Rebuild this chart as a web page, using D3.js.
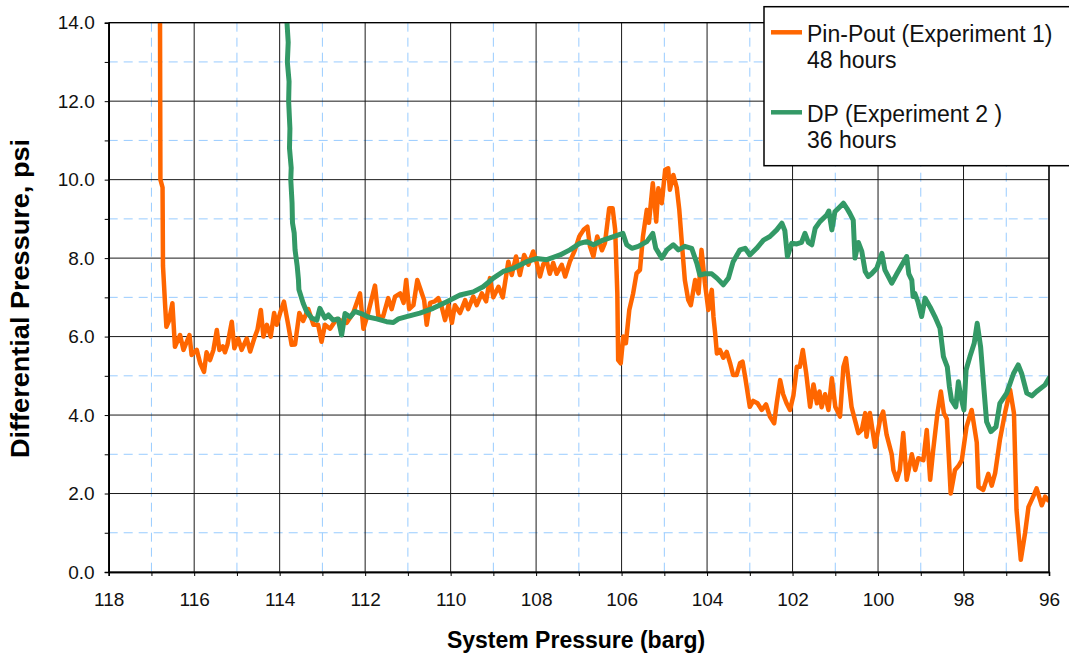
<!DOCTYPE html>
<html>
<head>
<meta charset="utf-8">
<script src="https://cdn.jsdelivr.net/npm/d3@7"></script>
<style>
  html, body { margin: 0; padding: 0; background: #fff; }
  svg { display: block; font-family: "Liberation Sans", Arial, sans-serif; }
</style>
</head>
<body>
<svg id="chart" width="1069" height="656"></svg>
<script>
// System pressure (barg) readings for each experiment
const pinPoutPressure = [116.80,116.79,116.74,116.73,116.68,116.65,116.59,116.51,116.45,116.33,116.25,116.11,116.06,115.94,115.86,115.77,115.71,115.63,115.55,115.47,115.41,115.33,115.28,115.22,115.12,115.06,114.97,114.89,114.77,114.69,114.58,114.52,114.44,114.38,114.30,114.21,114.13,114.07,113.99,113.90,113.80,113.72,113.64,113.54,113.45,113.33,113.21,113.10,113.02,112.94,112.82,112.67,112.43,112.28,112.12,112.04,111.93,111.77,111.69,111.58,111.46,111.38,111.30,111.18,111.10,111.04,110.97,110.87,110.78,110.70,110.62,110.56,110.48,110.37,110.29,110.21,110.13,110.05,109.97,109.90,109.78,109.66,109.59,109.47,109.39,109.27,109.17,109.08,109.00,108.88,108.78,108.65,108.57,108.47,108.38,108.28,108.18,108.07,107.99,107.91,107.83,107.75,107.68,107.60,107.52,107.40,107.32,107.21,107.09,106.99,106.89,106.80,106.74,106.66,106.57,106.46,106.39,106.29,106.21,106.15,106.10,106.08,106.02,105.96,105.90,105.82,105.73,105.65,105.57,105.50,105.41,105.36,105.27,105.19,105.14,105.06,104.98,104.91,104.87,104.79,104.71,104.65,104.59,104.52,104.44,104.38,104.28,104.20,104.13,104.05,103.97,103.89,103.85,103.81,103.77,103.70,103.62,103.54,103.46,103.39,103.31,103.23,103.17,103.11,103.00,102.92,102.82,102.72,102.62,102.53,102.43,102.37,102.29,102.22,102.14,102.06,101.98,101.90,101.83,101.76,101.68,101.59,101.51,101.43,101.37,101.32,101.24,101.16,101.08,101.00,100.89,100.81,100.75,100.70,100.62,100.54,100.46,100.38,100.30,100.27,100.19,100.07,99.95,99.88,99.80,99.68,99.64,99.56,99.49,99.41,99.33,99.21,99.13,99.06,98.94,98.86,98.78,98.71,98.61,98.53,98.46,98.39,98.30,98.20,98.12,98.04,97.93,97.81,97.69,97.65,97.54,97.42,97.34,97.26,97.15,97.03,96.91,96.82,96.76,96.66,96.56,96.48,96.37,96.29,96.17,96.09,96.02];
// Differential pressure (psi), experiment 1
const pinPoutDP = [14.3,10.0,9.8,7.8,6.8,6.25,6.4,6.85,5.74,6.04,5.66,6.04,5.53,5.66,5.32,5.1,5.6,5.4,5.66,6.17,5.66,5.75,5.6,5.8,6.38,5.7,5.95,5.66,5.95,5.62,6.0,6.17,6.68,6.0,6.3,6.0,6.6,6.3,6.6,6.89,6.3,5.79,5.8,6.6,6.4,6.7,6.3,6.3,5.87,6.3,6.2,6.45,6.35,6.6,7.1,6.2,6.6,7.3,6.5,6.51,6.98,6.7,7.02,7.1,6.86,7.44,6.7,6.8,7.44,7.19,6.93,6.30,6.86,6.9,6.98,6.76,6.42,6.8,6.35,6.8,6.6,6.93,6.7,7.02,6.8,7.1,6.9,7.49,7.0,7.27,7.0,7.91,7.57,8.04,7.57,8.08,7.83,8.17,7.9,7.53,7.85,7.91,7.6,7.88,7.6,7.83,7.53,7.91,8.21,8.55,8.72,8.8,8.3,8.04,8.55,8.2,8.38,9.27,9.27,8.72,7.1,5.4,5.32,6.0,5.83,6.68,7.1,7.61,7.7,8.55,9.23,8.9,9.91,8.93,9.78,9.4,10.25,10.29,9.74,10.12,9.8,9.23,8.38,7.44,6.93,6.8,7.44,7.1,8.21,7.36,6.68,7.19,6.5,6.08,5.57,5.66,5.46,5.61,5.32,5.02,5.02,5.32,5.36,4.98,4.21,4.36,4.3,4.13,4.27,3.96,3.79,4.3,4.89,4.53,4.3,4.13,4.5,5.23,5.23,5.66,5.06,4.21,4.78,4.3,4.6,4.2,4.53,4.13,4.94,4.21,3.96,5.23,5.45,4.98,4.21,3.87,3.54,3.62,4.05,3.45,4.05,3.19,3.9,4.09,3.5,3.0,2.6,2.35,2.6,3.54,2.35,3.0,2.6,2.9,2.85,3.62,2.35,3.1,4.05,4.6,4.05,3.9,2.0,2.6,2.7,2.85,3.7,4.13,3.3,2.17,2.09,2.5,2.2,2.52,3.36,4.05,4.64,4.05,1.58,0.31,0.99,1.66,1.92,2.13,1.7,1.92,1.83];

const dpPressure = [113.84,113.80,113.82,113.78,113.79,113.76,113.77,113.73,113.74,113.71,113.70,113.66,113.64,113.59,113.56,113.55,113.45,113.37,113.25,113.13,113.06,112.94,112.86,112.75,112.63,112.55,112.47,112.35,112.24,112.08,111.93,111.73,111.50,111.34,111.22,111.03,110.72,110.41,110.09,109.78,109.47,109.24,109.00,108.77,108.53,108.22,107.99,107.75,107.44,107.21,106.97,106.82,106.66,106.43,106.19,105.97,105.88,105.76,105.61,105.41,105.27,105.20,105.06,104.94,104.79,104.67,104.52,104.36,104.24,104.17,104.05,103.89,103.77,103.62,103.50,103.39,103.23,103.11,103.00,102.84,102.68,102.53,102.37,102.25,102.18,102.12,102.02,101.90,101.79,101.71,101.63,101.55,101.47,101.36,101.20,101.15,101.08,101.01,100.89,100.81,100.73,100.66,100.58,100.54,100.46,100.38,100.30,100.23,100.15,100.03,99.91,99.84,99.68,99.56,99.33,99.28,99.21,99.18,99.14,99.07,98.98,98.90,98.78,98.67,98.55,98.47,98.38,98.33,98.28,98.18,98.12,98.07,97.99,97.94,97.85,97.75,97.68,97.60,97.52,97.46,97.36,97.24,97.15,96.99,96.83,96.72,96.64,96.52,96.40,96.29,96.09,96.00];
// Differential pressure (psi), experiment 2
const dpValues = [14.2,13.5,13.0,12.5,12.0,11.3,10.8,10.3,10.0,9.4,8.9,8.64,8.21,7.8,7.44,7.2,6.85,6.64,6.47,6.42,6.72,6.47,6.55,6.42,6.45,6.04,6.59,6.5,6.64,6.58,6.5,6.45,6.38,6.36,6.45,6.51,6.6,6.72,6.89,7.06,7.14,7.27,7.49,7.66,7.74,7.91,7.99,7.96,8.08,8.21,8.38,8.42,8.34,8.46,8.55,8.63,8.34,8.25,8.3,8.42,8.63,8.25,8.0,8.21,8.34,8.21,8.3,8.25,7.87,7.57,7.6,7.6,7.49,7.32,7.49,7.91,8.21,8.25,8.08,8.25,8.46,8.55,8.72,8.89,8.7,8.04,8.38,8.36,8.4,8.63,8.4,8.34,8.76,8.93,9.1,9.2,8.72,9.18,9.31,9.4,9.27,9.14,8.97,8.0,8.4,8.17,7.66,7.53,7.6,7.74,8.12,7.7,7.36,7.6,8.04,7.6,7.44,7.02,7.1,6.9,6.51,6.98,6.75,6.51,6.21,5.49,5.23,4.72,4.38,4.21,4.85,4.5,4.13,5.15,5.49,5.83,6.34,5.74,4.64,3.83,3.58,3.7,4.3,4.56,5.06,5.28,5.06,4.56,4.49,4.6,4.77,4.94];

const xMajorTicks = [118,116,114,112,110,108,106,104,102,100,98,96];
const xMinorTicks = [117,115,113,111,109,107,105,103,101,99,97];
const yMajorTicks = [0,2,4,6,8,10,12,14];
const yMinorTicks = [1,3,5,7,9,11,13];

const seriesNames = ["Pin-Pout (Experiment 1)", "DP (Experiment 2 )"];
const seriesNotes = ["48 hours", "36 hours"];
const seriesColors = ["#FF6600", "#339966"];

const svg = d3.select("#chart");
const plot = { left: 108.7, right: 1049, top: 22.7, bottom: 572 };

const x = d3.scaleLinear().domain([118, 96]).range([plot.left, plot.right]);
const y = d3.scaleLinear().domain([0, 14]).range([plot.bottom, plot.top]);

svg.append("defs").append("clipPath").attr("id", "plotClip")
  .append("rect")
  .attr("x", plot.left).attr("y", plot.top)
  .attr("width", plot.right - plot.left).attr("height", plot.bottom - plot.top);

// minor (dashed) grid
const grid = svg.append("g");
grid.selectAll("line.vmin").data(xMinorTicks).join("line")
  .attr("x1", d => x(d)).attr("x2", d => x(d))
  .attr("y1", plot.top).attr("y2", plot.bottom)
  .attr("stroke", "#99CCFF").attr("stroke-width", 1).attr("stroke-dasharray", "9,6");
grid.selectAll("line.hmin").data(yMinorTicks).join("line")
  .attr("y1", d => y(d)).attr("y2", d => y(d))
  .attr("x1", plot.left).attr("x2", plot.right)
  .attr("stroke", "#99CCFF").attr("stroke-width", 1).attr("stroke-dasharray", "9,6");
// major (solid) grid
grid.selectAll("line.vmaj").data(xMajorTicks).join("line")
  .attr("x1", d => x(d)).attr("x2", d => x(d))
  .attr("y1", plot.top).attr("y2", plot.bottom)
  .attr("stroke", "#1a1a1a").attr("stroke-width", 1);
grid.selectAll("line.hmaj").data(yMajorTicks).join("line")
  .attr("y1", d => y(d)).attr("y2", d => y(d))
  .attr("x1", plot.left).attr("x2", plot.right)
  .attr("stroke", "#1a1a1a").attr("stroke-width", 1);

// data lines
const line = d3.line().x(d => x(d[0])).y(d => y(d[1]));
const seriesData = [
  d3.zip(pinPoutPressure, pinPoutDP),
  d3.zip(dpPressure, dpValues)
];
const lines = svg.append("g").attr("clip-path", "url(#plotClip)");
seriesData.forEach((data, i) => {
  lines.append("path")
    .datum(data)
    .attr("d", line)
    .attr("fill", "none")
    .attr("stroke", seriesColors[i])
    .attr("stroke-width", i === 0 ? 4.5 : 5)
    .attr("stroke-linejoin", "round")
    .attr("stroke-linecap", "round");
});

// axes
const fontTick = 19;
const xAxisMinor = d3.axisBottom(x).tickValues(xMinorTicks).tickSize(4).tickFormat("");
const xAxisMajor = d3.axisBottom(x).tickValues(xMajorTicks).tickSize(4).tickSizeOuter(0)
  .tickPadding(17).tickFormat(d3.format("d"));
const yAxisMinor = d3.axisLeft(y).tickValues(yMinorTicks).tickSize(4).tickFormat("");
const yAxisMajor = d3.axisLeft(y).tickValues(yMajorTicks).tickSize(4).tickSizeOuter(0)
  .tickPadding(10).tickFormat(d3.format(".1f"));

function styleAxis(g) {
  g.select(".domain").attr("stroke", "#000").attr("stroke-width", 1.6);
  g.selectAll(".tick line").attr("stroke", "#000").attr("stroke-width", 1);
  g.selectAll(".tick text").attr("fill", "#111").attr("font-size", fontTick)
    .attr("font-family", "'Liberation Sans', Arial, sans-serif");
}
svg.append("g").attr("transform", `translate(0,${plot.bottom})`).call(xAxisMinor).call(styleAxis);
svg.append("g").attr("transform", `translate(0,${plot.bottom})`).call(xAxisMajor).call(styleAxis);
svg.append("g").attr("transform", `translate(${plot.left},0)`).call(yAxisMinor).call(styleAxis);
svg.append("g").attr("transform", `translate(${plot.left},0)`).call(yAxisMajor).call(styleAxis);

// frame top/right
svg.append("line").attr("x1", plot.left).attr("x2", plot.right).attr("y1", plot.top).attr("y2", plot.top)
  .attr("stroke", "#000").attr("stroke-width", 1.3);
svg.append("line").attr("x1", plot.right).attr("x2", plot.right).attr("y1", plot.top).attr("y2", plot.bottom)
  .attr("stroke", "#000").attr("stroke-width", 1.3);

// axis titles
svg.append("text")
  .attr("x", 576).attr("y", 647.5)
  .attr("text-anchor", "middle")
  .attr("font-size", 23).attr("font-weight", "bold").attr("fill", "#000")
  .text("System Pressure (barg)");
svg.append("text")
  .attr("transform", "translate(28.5,298.5) rotate(-90)")
  .attr("text-anchor", "middle")
  .attr("font-size", 25).attr("font-weight", "bold").attr("fill", "#000")
  .attr("textLength", 319).attr("lengthAdjust", "spacingAndGlyphs")
  .text("Differential Pressure, psi");

// legend
const legend = svg.append("g");
legend.append("rect")
  .attr("x", 764).attr("y", 6.7).attr("width", 320).attr("height", 159)
  .attr("fill", "#fff").attr("stroke", "#000").attr("stroke-width", 1.5);
seriesNames.forEach((name, i) => {
  const top = 32.3 + i * 80;
  legend.append("line")
    .attr("x1", 771).attr("x2", 802).attr("y1", top).attr("y2", top)
    .attr("stroke", seriesColors[i]).attr("stroke-width", 4.5);
  legend.append("text")
    .attr("x", 807).attr("y", top + 9.4)
    .attr("font-size", 23).attr("fill", "#111")
    .text(name);
  legend.append("text")
    .attr("x", 807).attr("y", top + 35.4)
    .attr("font-size", 23).attr("fill", "#111")
    .text(seriesNotes[i]);
});
</script>
</body>
</html>
